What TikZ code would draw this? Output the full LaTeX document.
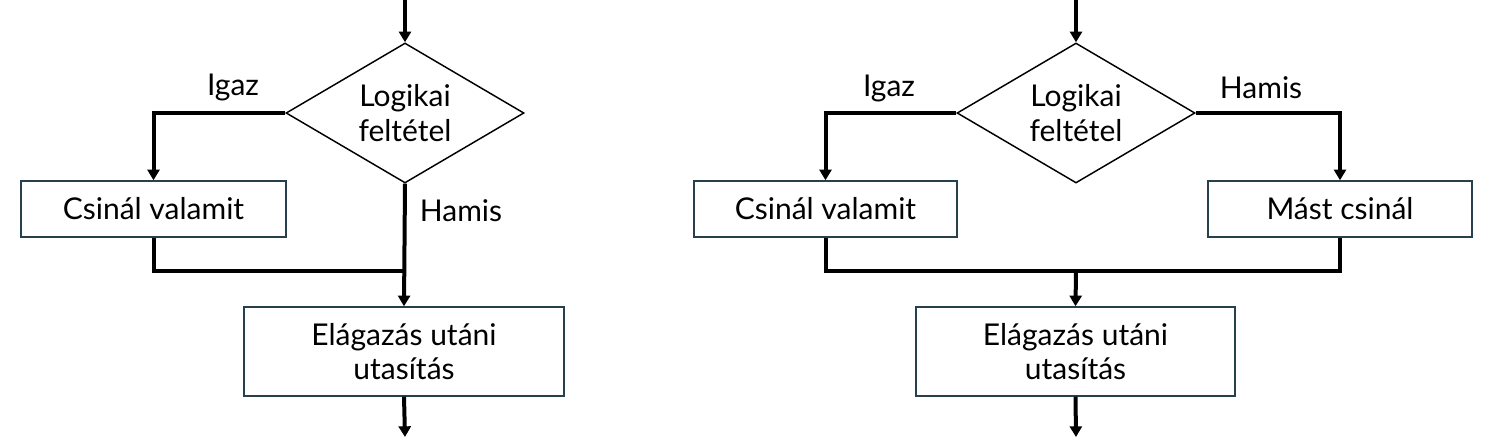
\documentclass[tikz,border=0pt]{standalone}
\usepackage{fontspec}
\setmainfont{Lato}
\usetikzlibrary{calc, arrows, positioning}
\usetikzlibrary{arrows.meta}
\usetikzlibrary{shapes.geometric}
\definecolor{keret}{RGB}{38,64,78}

\begin{document}
\begin{tikzpicture}[x=0.75pt,y=-0.75pt,
        flow/.style={line width=3pt,-{Triangle[length=8pt,width=9pt]}},
        vonal/.style={line width=3pt},
        doboz/.style={draw=keret,line width=1.1pt,rectangle,inner sep=0pt,align=center},
        dontes/.style={draw=black,line width=1.1pt,diamond,aspect=1.7,inner sep=0pt,align=center,
                minimum width=178.5pt,minimum height=105pt},
        felirat/.style={inner sep=0pt}]
        \useasboundingbox (0,0) rectangle (1506,443);
        \fontsize{22.5}{26}\selectfont

        %bal oldali ábra
        \coordinate (topL) at (405,0);
        \node[dontes] (dL) at (405,113) {Logikai\\feltétel};
        \node[doboz,minimum width=198.75pt,minimum height=42pt] (cL) at (153.5,209) {Csinál valamit};
        \node[doboz,minimum width=240pt,minimum height=66.75pt] (eL) at (404,351.5) {Elágazás utáni\\utasítás};
        \coordinate (mL) at (405,271);
        \coordinate (botL) at (405,437);
        \node[felirat] (igazL) at (233,87) {Igaz};
        \node[felirat] (hamisL) at (461,211) {Hamis};

        \draw[flow] (topL) -- (dL.north);
        \draw[flow] (dL.west) -| (cL.north);
        \draw[flow] (dL.south) -- (eL.north);
        \draw[vonal] (cL.south) |- (mL);
        \draw[flow] (eL.south) -- (botL);

        %jobb oldali ábra
        \coordinate (topR) at (1076,0);
        \node[dontes] (dR) at (1076,113) {Logikai\\feltétel};
        \node[doboz,minimum width=197.25pt,minimum height=42pt] (cR) at (825.5,209) {Csinál valamit};
        \node[doboz,minimum width=198pt,minimum height=42pt] (mR) at (1340,209) {Mást csinál};
        \node[doboz,minimum width=239.25pt,minimum height=66.75pt] (eR) at (1075.5,351.5) {Elágazás utáni\\utasítás};
        \coordinate (jR) at (1076,271);
        \coordinate (botR) at (1076,437);
        \node[felirat] (igazR) at (889,88) {Igaz};
        \node[felirat] (hamisR) at (1261,88) {Hamis};

        \draw[flow] (topR) -- (dR.north);
        \draw[flow] (dR.west) -| (cR.north);
        \draw[flow] (dR.east) -| (mR.north);
        \draw[vonal] (cR.south) |- (jR) -| (mR.south);
        \draw[flow] (jR) -- (eR.north);
        \draw[flow] (eR.south) -- (botR);
\end{tikzpicture}
\end{document}
